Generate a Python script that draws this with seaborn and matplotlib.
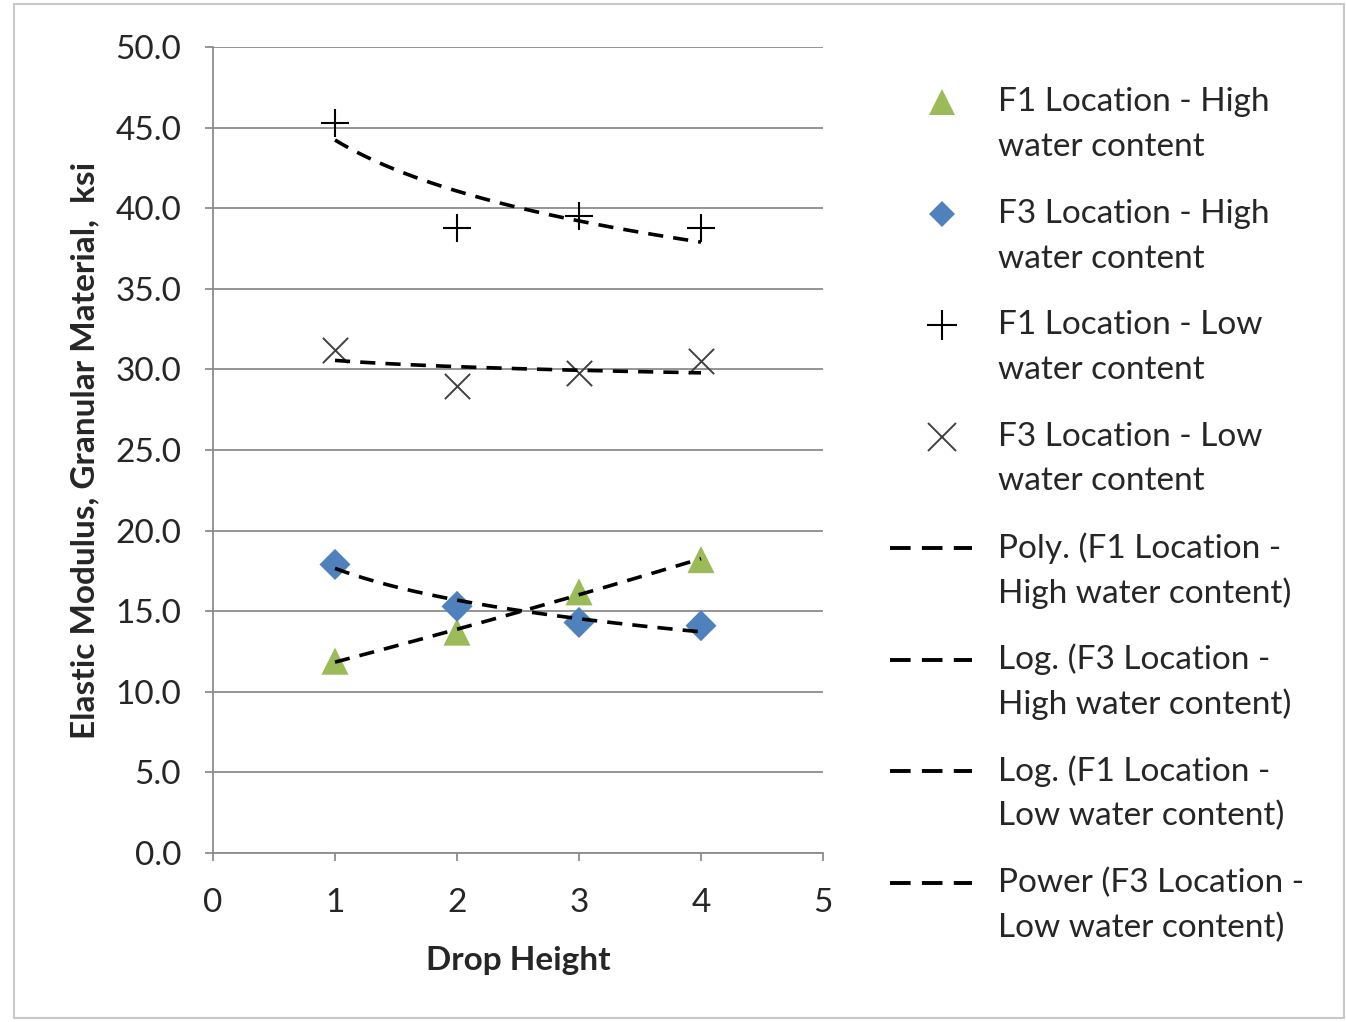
import numpy as np
import matplotlib
matplotlib.use("Agg")
import matplotlib.pyplot as plt
from matplotlib.lines import Line2D
import seaborn as sns

drop_height = [1, 2, 3, 4]
f1_high = [11.9, 13.7, 16.2, 18.2]
f3_high = [17.9, 15.3, 14.3, 14.1]
f1_low = [45.3, 38.8, 39.5, 38.8]
f3_low = [31.2, 29.0, 29.8, 30.5]

series_labels = [
    "F1 Location - High\nwater content",
    "F3 Location - High\nwater content",
    "F1 Location - Low\nwater content",
    "F3 Location - Low\nwater content",
]
trend_labels = [
    "Poly. (F1 Location -\nHigh water content)",
    "Log. (F3 Location -\nHigh water content)",
    "Log. (F1 Location -\nLow water content)",
    "Power (F3 Location -\nLow water content)",
]

sns.set_theme(style="white")
plt.rcParams["font.family"] = ["Lato", "DejaVu Sans"]

W, H = 1346, 1022
fig = plt.figure(figsize=(W / 100, H / 100), dpi=100)
ax = fig.add_axes([213 / W, 1 - 853 / H, 610 / W, 806 / H])

x = np.array(drop_height, dtype=float)
xs = np.linspace(1, 4, 200)

# trendlines fitted to each series
c2 = np.polyfit(x, f1_high, 2)
t_f1_high = np.polyval(c2, xs)
a, b = np.polyfit(np.log(x), f3_high, 1)
t_f3_high = a * np.log(xs) + b
a, b = np.polyfit(np.log(x), f1_low, 1)
t_f1_low = a * np.log(xs) + b
p, q = np.polyfit(np.log(x), np.log(f3_low), 1)
t_f3_low = np.exp(q) * xs ** p

dash = (0, (4.2, 2.8))
for t in [t_f1_high, t_f3_high, t_f1_low, t_f3_low]:
    sns.lineplot(x=xs, y=t, ax=ax, color="black", lw=2.6, linestyle=dash, zorder=4)

green = "#9BBB59"
blue = "#4F81BD"
sns.scatterplot(x=drop_height, y=f1_high, ax=ax, marker="^", s=380, color=green,
                edgecolor="none", zorder=3)
sns.scatterplot(x=drop_height, y=f3_high, ax=ax, marker="D", s=250, color=blue,
                edgecolor="none", zorder=3)
sns.scatterplot(x=drop_height, y=f1_low, ax=ax, marker="+", s=420, color="black",
                linewidth=1.5, zorder=3)
sns.scatterplot(x=drop_height, y=f3_low, ax=ax, marker="x", s=330, color="#404040",
                linewidth=1.4, zorder=3)

ax.set_xlim(0, 5)
ax.set_ylim(0, 50)
ax.set_xticks(range(0, 6))
yt = np.arange(0, 50.1, 5)
ax.set_yticks(yt)
ax.set_yticklabels([f"{v:.1f}" for v in yt])
ax.yaxis.grid(True, color="#8c8c8c", lw=1.3)
ax.xaxis.grid(False)
for s in ["top", "right"]:
    ax.spines[s].set_visible(False)
for s in ["left", "bottom"]:
    ax.spines[s].set_color("#8c8c8c")
    ax.spines[s].set_linewidth(1.3)
ax.tick_params(axis="both", which="both", direction="out", length=6, width=1.3,
               color="#8c8c8c", labelsize=24, left=True, bottom=True)
ax.tick_params(axis="y", pad=17)
ax.tick_params(axis="x", pad=19)
ax.set_xlabel("Drop Height", fontsize=24, fontweight="bold", labelpad=20)
ax.set_ylabel("Elastic Modulus, Granular Material,  ksi", fontsize=24,
              fontweight="bold", labelpad=11)

# legend: sample on the first line of each two-line label
samples = [
    dict(marker="^", color=green, ls="none", markersize=19, markeredgewidth=0),
    dict(marker="D", color=blue, ls="none", markersize=13, markeredgewidth=0),
    dict(marker="+", color="black", ls="none", markersize=22, markeredgewidth=1.5),
    dict(marker="x", color="#404040", ls="none", markersize=20, markeredgewidth=1.4),
]
labels = series_labels + trend_labels
for i, lab in enumerate(labels):
    y0 = 102 + 111.5 * i
    if i < 4:
        fig.add_artist(Line2D([942 / W], [1 - y0 / H], transform=fig.transFigure,
                              **samples[i]))
    else:
        fig.add_artist(Line2D([890 / W, 972 / W], [1 - y0 / H, 1 - y0 / H],
                              transform=fig.transFigure, color="black", lw=2.8,
                              linestyle=(0, (5.3, 2.9))))
    for j, line in enumerate(lab.split("\n")):
        fig.text(998 / W, 1 - (y0 + 45 * j) / H, line, fontsize=24,
                 ha="left", va="center")

fig.patches.append(plt.Rectangle((14 / W, 4 / H), 1330 / W, 1014 / H,
                                 transform=fig.transFigure, fill=False,
                                 edgecolor="#c8c8c8", lw=1.5))

fig.savefig("out.png", dpi=100)
